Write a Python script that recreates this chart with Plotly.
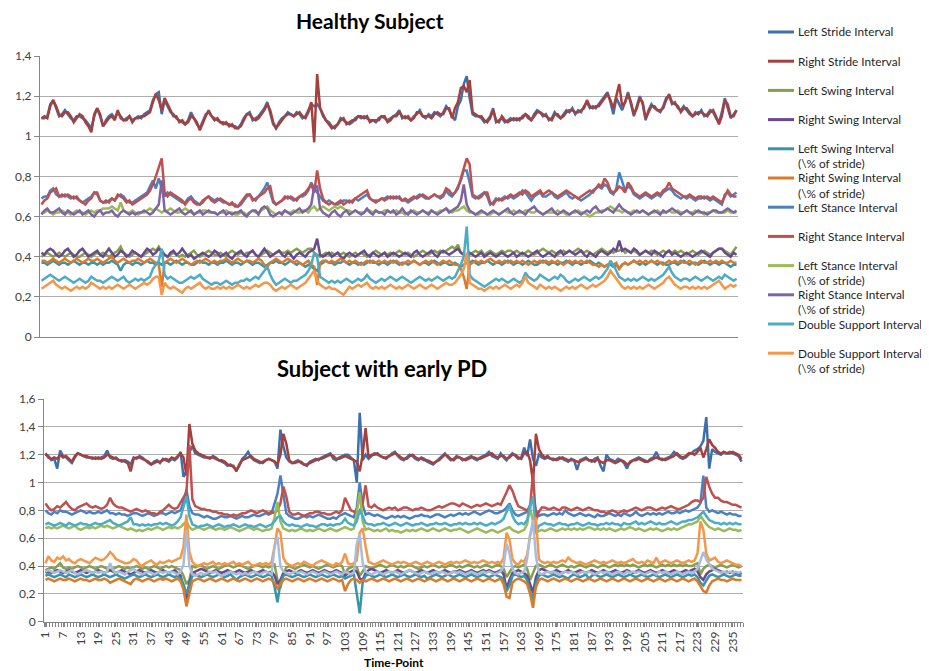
import plotly.graph_objects as go

# ---------------- DATA (values in hundredths of a second / fraction) ----------------
SERIES_NAMES = ["Left Stride Interval", "Right Stride Interval", "Left Swing Interval",
                "Right Swing Interval", "Left Swing Interval<br>(\\% of stride)",
                "Right Swing Interval<br>(\\% of stride)", "Left Stance Interval",
                "Right Stance Interval", "Left Stance Interval<br>(\\% of stride)",
                "Right Stance Interval<br>(\\% of stride)", "Double Support Interval",
                "Double Support Interval<br>(\\% of stride)"]

TOP_COLORS = ["#3F6FAA", "#A5403D", "#83A04C", "#6A4A8C", "#3794A9", "#DA7A2D",
              "#4A80C4", "#C0504D", "#9BBB59", "#8064A2", "#4BACC6", "#F79646"]
PD_COLORS = ["#3F6FAA", "#A5403D", "#83A04C", "#6A4A8C", "#3794A9", "#DA7A2D",
             "#4A80C4", "#C0504D", "#9BBB59", "#4BACC6", "#F79646", "#A9BCDB"]

X_TICK_LABELS = [str(i) for i in range(1, 239, 6)]

# Healthy subject
H_LEFT_STRIDE = [109,109,110,116,118,114,110,111,113,111,109,108,110,110,109,108,106,104,110,114,
110,105,108,110,111,109,112,110,108,109,110,108,109,110,109,111,112,113,118,121,
122,111,118,115,112,111,109,108,107,106,108,112,109,106,104,108,111,112,110,109,
108,107,107,106,106,105,105,104,106,109,111,112,108,109,110,112,114,117,112,106,
104,107,109,110,112,111,110,112,111,109,110,113,116,115,116,114,110,108,107,105,
104,106,109,108,107,106,107,109,110,109,110,109,108,108,107,109,110,109,108,109,
110,111,113,109,110,109,108,110,111,113,110,109,111,110,112,111,110,112,115,113,
110,108,115,118,126,130,119,111,110,110,109,107,108,110,114,107,108,109,107,108,
109,108,109,108,110,111,109,108,111,113,112,110,111,108,109,112,110,109,111,113,
112,114,111,113,112,115,117,114,115,114,116,118,120,122,117,111,119,116,113,117,
122,116,110,115,120,116,108,113,116,114,113,112,115,119,120,116,117,114,113,115,
113,111,110,112,111,113,110,111,113,112,109,107,112,119,114,109,111,113]
H_RIGHT_STRIDE = [109,110,109,115,118,115,111,110,112,112,110,107,109,111,110,107,105,102,111,114,
111,105,107,109,110,108,113,109,108,108,110,107,109,109,110,110,111,112,117,121,
118,113,119,116,113,110,110,107,108,106,107,110,109,107,103,107,110,113,110,108,
109,107,106,107,105,106,104,104,105,108,111,111,109,108,109,111,113,116,113,107,
104,106,108,110,111,111,110,111,112,110,109,112,117,97,131,114,111,108,106,104,
105,106,108,109,106,107,108,108,110,110,109,110,107,108,108,108,110,110,107,108,
110,110,112,110,109,110,108,109,112,112,110,110,110,109,111,112,111,111,114,114,
109,114,117,124,125,122,128,112,111,110,110,108,107,109,113,108,107,110,108,107,
108,109,108,109,109,111,110,108,110,112,112,111,110,109,108,111,111,109,110,112,
113,113,112,112,113,114,118,115,114,115,115,117,119,121,118,114,120,126,115,117,
121,117,111,114,119,117,109,112,115,115,113,113,114,118,121,117,116,115,112,114,
114,112,110,111,112,112,111,110,112,113,110,106,110,118,116,110,110,113]
H_LEFT_SWING = [40,41,42,41,40,41,42,41,40,41,42,41,40,40,41,42,41,40,41,42,
41,42,41,40,41,42,43,45,42,41,40,41,42,41,40,41,42,43,44,43,
45,42,41,40,41,42,41,40,41,40,41,42,43,41,40,41,42,43,42,41,
41,42,41,40,42,43,42,41,42,41,42,42,43,41,40,41,42,43,42,41,
42,43,42,42,43,42,43,44,43,42,43,44,44,42,41,40,41,42,41,42,
41,42,41,42,41,40,41,42,41,42,41,40,41,42,43,42,41,42,41,42,
41,42,43,42,41,42,41,40,41,42,43,42,41,42,43,42,43,42,43,44,
45,44,46,42,41,40,41,42,43,42,43,41,42,43,42,41,42,43,42,43,
43,42,43,42,41,42,43,42,41,42,43,44,43,42,43,42,41,42,43,42,
43,42,43,44,43,42,43,42,41,42,43,44,43,42,43,42,43,43,44,42,
43,42,43,42,41,42,43,42,43,42,41,42,43,42,43,42,43,42,43,42,
41,42,43,42,41,42,43,42,41,42,43,44,44,43,42,41,43,45]
H_RIGHT_SWING = [42,41,43,44,43,41,40,41,43,44,42,40,41,43,44,42,40,41,42,43,
41,40,42,44,42,40,41,43,42,40,41,43,42,41,40,42,44,43,41,42,
44,43,41,40,42,43,41,42,44,42,40,41,39,40,41,42,41,40,41,43,
42,40,41,42,40,39,41,42,43,41,40,42,43,41,40,42,44,42,40,41,
42,43,41,40,42,41,39,41,42,41,40,42,43,44,49,41,40,41,42,40,
41,42,40,39,41,42,41,40,41,42,43,41,40,42,41,40,41,42,40,41,
42,41,40,41,42,41,40,42,43,41,40,41,42,43,41,40,42,43,42,41,
42,43,44,42,41,40,42,41,40,41,42,40,41,42,41,40,41,42,41,40,
41,42,40,41,42,41,40,41,42,43,41,40,41,42,41,40,42,43,41,42,
43,42,41,42,43,41,40,42,41,40,42,43,42,41,42,44,43,48,43,44,
43,42,44,43,41,42,43,42,41,43,42,41,40,42,43,41,42,41,40,41,
42,41,40,41,42,43,42,41,40,42,43,44,44,42,41,40,42,41]
H_LEFT_SWING_PCT = [37,37,36,37,38,37,36,37,37,36,37,38,37,36,37,37,36,37,37,36,
37,36,37,37,38,37,36,33,36,37,37,36,37,37,36,37,38,37,37,36,
37,36,37,37,36,37,38,37,36,37,37,36,36,37,38,37,37,36,37,37,
36,37,37,38,37,36,37,37,36,37,38,37,36,37,37,36,35,36,37,37,
38,37,37,36,37,38,37,36,37,36,35,36,35,34,33,36,37,38,37,37,
36,37,37,38,37,36,37,37,36,37,36,37,38,37,37,36,37,37,36,37,
38,37,36,37,37,36,37,38,37,36,37,37,36,37,38,37,36,37,37,36,
36,37,36,35,36,37,37,38,37,36,37,37,38,37,36,37,37,36,37,38,
37,36,37,37,36,37,38,37,36,36,37,38,37,36,37,37,36,37,37,38,
37,36,37,37,36,37,37,38,37,36,37,36,35,36,36,35,36,34,36,37,
36,37,38,37,36,37,36,37,38,37,36,37,37,36,36,37,37,36,37,38,
37,36,37,37,36,37,38,37,36,37,37,36,37,37,36,35,36,36]
H_RIGHT_SWING_PCT = [38,38,37,38,39,38,37,38,39,38,37,38,39,38,37,38,39,38,38,39,
38,37,38,39,40,38,37,38,39,38,37,38,38,39,38,37,38,39,38,37,
36,25,37,38,39,38,37,38,39,38,37,36,37,38,37,38,39,38,37,38,
37,38,38,39,38,37,38,39,38,37,38,38,37,38,39,38,36,35,37,38,
39,38,37,38,39,38,37,38,37,36,37,38,36,35,26,37,38,38,37,38,
37,38,39,38,37,38,37,38,37,36,37,38,37,38,37,38,37,38,37,38,
37,38,37,36,37,38,37,38,37,36,37,38,37,38,37,36,37,38,37,38,
37,36,36,34,30,24,36,37,38,37,38,37,38,39,38,37,38,37,38,37,
38,37,38,37,38,37,36,37,38,37,38,37,38,37,38,37,38,37,36,37,
38,37,38,37,38,37,38,37,36,36,35,36,35,36,37,36,37,34,36,37,
36,37,38,37,38,37,38,37,38,37,38,37,36,37,38,37,38,37,38,37,
37,38,37,36,37,38,37,37,38,37,38,37,38,37,37,38,37,37]
H_LEFT_STANCE = [69,70,70,73,74,71,70,70,71,70,69,70,69,68,67,68,69,70,72,71,
68,67,67,68,69,68,70,71,70,68,67,67,68,69,70,71,72,75,78,74,
79,74,70,72,71,70,69,68,67,67,69,70,68,67,66,67,69,70,69,68,
69,68,67,67,66,66,66,65,66,68,70,71,69,68,70,72,74,77,72,67,
66,67,68,69,70,69,68,69,70,70,71,73,77,74,72,70,68,67,68,67,
66,66,67,68,68,67,68,69,68,69,70,71,69,68,68,68,69,69,70,69,
70,69,70,68,68,67,68,69,70,71,70,69,69,70,71,70,69,70,73,71,
70,72,75,78,83,83,77,70,69,70,71,72,70,66,67,69,68,69,70,69,
70,69,70,71,73,72,70,68,70,71,72,70,70,71,72,70,69,70,71,72,
70,69,70,69,68,69,70,71,73,74,75,74,76,75,72,71,74,82,78,73,
75,74,71,70,69,70,71,70,69,70,71,70,72,73,74,73,71,70,69,70,
69,70,69,68,69,69,70,69,68,69,68,67,66,71,72,70,71,72]
H_RIGHT_STANCE = [66,68,69,72,73,74,70,71,70,71,70,69,70,68,67,66,68,69,72,72,
68,67,68,67,69,68,71,70,69,67,68,66,67,68,69,70,71,73,76,80,
84,89,72,70,72,71,70,69,68,66,68,69,67,66,66,68,69,70,68,67,
68,69,68,67,66,67,65,65,67,69,71,71,68,69,70,71,72,74,75,68,
66,67,68,70,69,70,69,68,70,71,72,74,76,72,83,74,69,67,66,67,
66,67,68,66,67,68,67,69,70,71,72,73,69,68,67,68,69,68,69,70,
69,70,69,68,69,68,69,70,69,70,71,70,69,70,71,70,70,71,74,73,
71,72,74,79,84,89,86,71,70,69,70,72,72,67,66,68,69,68,69,70,
71,70,71,72,71,73,72,70,71,72,73,71,72,73,72,71,70,71,72,73,
72,71,70,69,70,71,72,73,72,74,76,75,79,77,73,72,73,75,74,72,
77,75,72,71,70,71,72,71,70,71,72,71,73,74,77,74,73,72,71,70,
70,71,70,69,70,70,69,70,69,70,69,68,67,70,73,71,70,70]
H_LEFT_STANCE_PCT = [62,62,63,62,61,62,62,63,62,62,61,62,63,62,62,61,62,63,62,63,
63,64,64,64,65,64,63,67,63,62,62,63,62,61,62,62,63,64,63,64,
63,62,63,63,64,63,62,62,63,64,63,62,61,62,62,63,63,62,62,62,
61,62,62,63,62,62,61,61,62,62,61,62,63,62,62,63,64,65,63,62,
61,62,62,63,62,62,63,62,62,63,63,62,64,65,63,64,65,64,63,64,
65,64,65,64,63,63,62,63,62,62,62,63,63,62,63,62,62,63,63,62,
62,63,62,62,61,62,62,63,62,62,63,62,62,63,62,62,63,63,64,63,
62,63,63,64,65,63,62,62,61,61,62,62,61,61,62,62,61,62,63,62,
62,63,62,62,62,63,63,62,62,63,62,61,62,62,62,62,63,62,62,61,
61,62,62,63,62,62,61,60,61,62,62,63,63,64,65,64,63,63,62,63,
62,62,63,62,62,63,62,61,62,62,63,62,62,62,63,62,62,63,62,62,
63,62,62,63,62,62,61,62,62,63,62,62,62,62,63,62,62,62]
H_RIGHT_STANCE_PCT = [61,63,64,62,62,63,64,62,61,63,62,61,62,63,61,62,63,61,60,62,
63,61,62,62,63,61,60,62,63,62,61,62,61,62,62,63,62,61,62,64,
66,78,63,62,61,62,63,64,62,61,62,63,61,62,63,61,62,63,62,62,
61,62,63,61,62,61,62,62,63,61,60,62,63,63,61,64,65,64,61,60,
61,62,61,63,62,61,62,63,64,62,63,64,66,75,75,64,62,61,60,62,
63,61,60,62,63,61,62,63,62,61,62,64,62,61,63,62,62,61,63,62,
63,61,62,64,62,61,63,62,61,62,63,62,61,63,62,61,62,63,64,62,
63,64,65,68,76,66,63,62,61,62,63,62,61,62,63,62,61,62,63,64,
62,61,62,63,62,61,63,64,65,63,62,61,62,63,64,62,61,62,63,62,
61,62,63,62,61,62,63,62,64,65,63,62,63,64,63,62,64,66,64,63,
62,61,62,63,62,63,62,61,62,63,62,61,63,62,63,64,63,62,61,62,
63,62,61,62,63,62,62,61,62,63,63,62,62,63,64,63,62,63]
H_DOUBLE_SUPPORT = [28,29,30,31,30,29,28,29,30,29,28,27,28,29,28,27,28,30,29,28,
28,27,28,29,30,29,28,29,30,28,27,28,29,28,29,28,29,30,34,36,
38,44,31,29,30,29,28,27,27,28,29,30,29,30,31,29,28,27,26,27,
27,26,27,28,27,26,27,27,28,28,29,28,29,30,29,31,33,35,31,28,
26,27,28,29,28,27,28,28,29,30,31,33,36,42,40,30,29,28,27,28,
27,28,27,28,29,28,27,28,29,28,29,31,29,28,27,28,29,28,29,30,
29,28,29,30,29,28,27,28,29,30,29,28,29,28,29,30,29,28,29,30,
29,30,33,36,40,55,31,29,28,27,26,25,26,27,28,29,28,29,28,27,
28,29,28,27,28,32,30,29,28,29,31,30,29,28,29,30,29,31,30,28,
27,28,29,28,29,30,29,28,29,30,29,30,32,34,38,36,33,30,29,28,
29,28,29,28,29,30,29,28,29,28,29,30,31,33,35,32,30,29,28,29,
29,28,29,30,29,28,29,30,29,28,29,30,29,31,30,29,28,29]
H_DOUBLE_SUPPORT_PCT = [24,25,26,27,28,26,25,24,25,24,23,24,25,24,25,24,25,27,26,25,
24,25,24,25,24,25,26,25,24,25,26,25,24,25,26,27,26,27,29,30,
30,21,27,25,24,25,24,23,22,24,25,24,25,26,27,25,24,25,24,24,
25,24,25,24,25,24,25,26,25,24,25,24,25,26,25,26,27,27,26,24,
23,24,25,24,25,26,25,24,25,26,27,29,31,33,28,26,25,24,25,24,
24,23,22,21,23,25,24,25,26,25,26,27,25,24,25,24,25,24,25,26,
25,24,25,24,25,26,25,24,25,26,25,24,25,26,25,24,25,26,27,26,
26,27,29,31,34,42,27,26,25,24,24,23,24,25,24,25,24,25,26,25,
24,25,26,25,27,30,27,26,25,24,26,25,24,25,24,25,24,23,24,25,
24,25,24,25,26,25,24,25,26,25,26,27,28,30,33,31,29,27,25,24,
25,24,25,24,25,24,25,26,25,24,25,26,27,29,30,28,26,25,24,25,
25,24,25,24,25,24,25,24,25,26,27,28,26,24,25,26,25,26]

# Subject with early PD
P_LEFT_STRIDE = [120,119,116,117,110,123,119,118,116,114,118,121,120,119,118,118,117,118,117,118,
119,123,118,117,118,116,115,116,115,113,118,117,119,118,116,114,113,115,116,114,
117,116,115,117,116,118,122,104,108,122,126,121,120,119,118,118,117,119,118,116,
115,114,112,113,111,109,112,117,119,122,118,116,115,114,115,116,117,116,115,110,
138,126,118,115,114,115,116,114,113,112,115,116,117,116,118,119,120,121,117,116,
118,119,120,120,118,116,100,150,116,120,117,119,121,120,119,118,117,119,121,122,
119,117,116,118,120,119,117,116,118,117,115,114,113,115,117,119,121,118,116,117,
119,118,116,117,118,119,117,116,118,119,120,122,119,118,117,121,118,116,119,121,
119,117,118,125,119,131,117,112,120,118,117,118,117,116,117,118,117,116,115,117,
116,109,116,117,118,116,115,117,118,112,108,120,117,116,115,117,116,114,110,115,
116,117,118,117,116,115,117,118,122,117,116,117,118,119,122,120,118,117,118,120,
121,123,124,126,130,147,110,124,122,121,120,122,121,122,121,120,119,115]
P_RIGHT_STRIDE = [121,118,117,118,117,120,118,119,117,115,119,121,120,119,119,118,118,117,118,117,
118,120,119,118,117,116,116,115,114,108,117,118,118,117,116,115,113,114,115,115,
116,117,116,118,117,119,121,118,105,142,128,123,121,120,119,118,118,118,117,116,
116,115,113,112,112,108,113,116,117,118,119,117,116,115,114,116,117,116,115,113,
120,135,128,116,114,114,115,115,113,113,114,115,116,117,117,118,119,120,119,117,
117,118,119,118,117,116,115,108,120,139,118,120,120,121,119,118,118,119,120,121,
120,118,117,117,119,120,118,117,117,116,116,115,114,115,116,118,120,119,117,116,
118,118,117,116,117,118,118,117,117,118,119,120,121,119,118,119,119,117,118,120,
120,118,117,121,122,116,100,135,124,120,118,119,117,117,116,117,118,117,116,116,
116,115,115,116,117,116,116,115,117,115,114,116,116,115,114,115,116,115,113,114,
116,116,117,116,115,115,116,117,118,117,117,116,117,118,119,121,119,118,119,121,
121,120,122,125,118,124,131,127,125,122,121,122,121,121,122,121,120,117]
P_LEFT_SWING = [37,38,39,38,40,42,39,38,39,38,39,40,39,38,39,40,39,38,39,40,
39,38,37,38,39,40,39,38,39,38,39,40,39,38,39,38,39,40,39,38,
39,40,39,40,39,38,37,33,27,30,40,39,40,41,39,38,39,40,39,38,
39,40,41,40,39,40,41,40,39,38,39,40,41,40,39,40,39,40,41,30,
24,34,39,40,39,38,39,40,41,40,39,40,39,38,39,40,41,40,39,40,
41,40,34,38,39,40,39,33,36,40,39,38,39,40,41,40,39,40,41,40,
39,40,39,40,41,40,39,38,39,40,39,40,41,40,39,40,39,40,41,40,
39,40,39,40,41,40,39,40,39,40,41,40,39,40,41,40,38,32,36,39,
40,39,40,41,38,30,35,40,41,40,39,40,41,40,39,40,41,40,39,40,
39,40,41,40,39,40,41,40,39,40,41,40,39,40,41,40,41,40,41,40,
41,40,39,40,41,40,41,40,39,40,41,40,41,40,41,40,41,40,41,40,
40,41,42,34,38,40,41,40,39,40,41,40,39,40,41,40,39,40]
P_RIGHT_SWING = [35,36,35,36,37,36,35,36,37,36,35,36,37,36,35,36,35,36,37,36,
35,36,37,36,35,36,37,36,35,34,35,36,37,36,35,36,37,36,35,36,
37,36,35,36,37,35,33,25,16,28,35,36,37,38,37,36,35,36,37,36,
35,36,37,36,35,36,37,36,35,36,37,36,35,36,37,36,35,36,33,27,
30,35,36,37,36,35,36,37,36,35,36,37,36,35,36,37,36,35,36,37,
36,35,33,35,36,37,36,31,30,35,37,38,37,36,35,36,37,36,35,36,
37,36,35,36,37,36,35,36,37,36,35,36,37,36,35,36,37,36,35,36,
36,37,36,35,36,37,36,35,36,37,36,37,36,35,36,37,34,24,30,35,
36,37,36,35,33,27,21,32,37,38,37,36,35,36,37,36,35,36,37,36,
35,36,37,36,35,36,37,36,35,36,37,36,35,36,37,36,35,36,37,36,
35,36,37,36,35,36,37,36,35,36,37,36,35,36,37,36,35,36,37,36,
37,38,36,32,30,34,36,37,38,37,36,35,36,35,36,35,34,35]
P_LEFT_SWING_PCT = [33,34,33,32,33,34,33,32,34,33,32,33,34,33,32,33,34,33,32,33,
34,33,32,33,34,33,32,31,32,33,34,33,32,33,34,33,32,33,34,33,
32,33,34,33,32,33,31,27,20,26,33,34,33,32,33,34,33,32,33,34,
33,32,33,34,32,30,32,33,34,33,32,33,34,33,32,33,34,33,25,14,
28,33,34,33,32,33,34,33,32,33,34,33,32,33,34,33,32,33,34,33,
32,33,31,32,33,34,20,6,28,33,34,33,32,33,34,33,32,33,34,33,
32,33,34,33,32,33,34,33,32,33,31,32,33,34,33,32,33,34,33,32,
33,34,33,32,33,34,33,32,33,34,33,32,33,34,33,32,30,22,26,33,
34,33,32,33,30,22,16,28,33,34,33,32,33,34,33,32,33,32,31,33,
34,33,32,33,34,31,33,34,33,32,33,34,33,32,33,34,33,32,33,34,
33,32,33,34,33,32,33,34,33,32,33,34,33,32,33,34,33,32,33,34,
33,34,32,28,26,30,33,34,33,32,33,34,33,32,33,34,33,33]
P_RIGHT_SWING_PCT = [30,31,30,29,30,31,30,30,31,30,29,30,31,30,30,29,30,31,30,30,
31,30,28,29,30,31,30,29,28,27,30,31,30,29,30,31,30,29,30,31,
30,31,30,29,30,31,29,23,11,20,29,30,31,30,29,30,31,30,29,30,
31,30,29,30,31,30,29,30,31,30,29,30,31,30,29,30,31,30,28,24,
27,30,31,30,29,30,31,30,29,30,31,30,29,30,31,30,29,30,31,30,
29,30,22,27,30,31,30,28,30,29,30,31,30,29,30,31,30,29,30,31,
30,29,30,31,30,29,30,31,30,29,30,31,30,29,30,31,30,29,30,31,
30,29,30,31,30,29,30,31,30,29,30,31,30,29,30,31,27,18,17,28,
30,31,30,29,27,20,10,25,30,31,30,29,30,31,30,29,30,31,30,29,
30,31,30,29,30,31,30,29,30,31,30,29,30,31,30,29,30,31,30,29,
30,31,30,29,30,31,30,29,30,31,30,29,30,31,30,29,30,31,30,29,
30,31,29,25,22,21,26,29,30,31,30,30,29,30,31,30,30,30]
P_LEFT_STANCE = [80,78,77,79,78,80,79,79,78,77,78,79,80,79,78,79,78,78,79,78,
79,80,78,78,77,78,77,77,76,77,78,78,77,76,77,78,77,76,77,78,
78,77,78,79,78,79,80,86,95,83,78,77,77,76,75,76,75,74,74,75,
76,75,75,76,75,74,75,76,75,75,76,77,76,76,77,78,77,78,85,92,
105,90,78,76,75,74,74,75,76,75,76,75,76,77,76,75,74,74,75,74,
76,77,78,77,76,75,82,100,84,77,78,77,76,77,76,75,74,75,76,75,
76,75,76,75,74,75,76,76,77,76,76,75,76,77,77,76,75,76,77,76,
77,78,77,78,77,78,79,78,77,78,79,80,79,78,78,79,80,82,85,80,
77,76,77,78,79,84,90,80,76,77,77,76,77,78,77,78,77,80,78,77,
76,77,78,77,76,77,76,75,77,76,76,77,78,77,76,77,76,78,77,76,
77,79,77,76,77,78,77,78,77,78,77,78,79,78,78,79,78,79,80,79,
80,81,82,85,105,82,79,80,79,78,79,78,77,78,77,77,76,76]
P_RIGHT_STANCE = [85,82,80,81,83,82,84,86,83,81,80,82,83,84,85,83,82,83,82,81,
82,84,89,85,83,82,82,81,80,79,80,81,80,79,80,79,78,78,77,79,
80,82,84,82,81,82,86,90,93,127,88,83,82,81,81,80,80,79,79,78,
78,77,77,76,77,76,77,78,78,79,80,79,78,79,80,79,78,79,78,80,
85,97,90,79,77,77,78,77,76,77,78,78,79,79,78,78,77,77,78,79,
78,80,89,84,80,79,78,79,85,98,83,82,84,82,81,80,81,82,81,82,
80,81,82,82,81,80,81,81,82,81,80,80,81,82,83,82,83,84,85,85,
84,83,85,84,83,82,83,84,83,84,85,84,83,84,85,84,88,93,98,94,
88,83,82,81,80,82,107,73,79,82,82,81,81,82,81,80,82,82,81,80,
81,82,81,80,81,82,81,80,80,79,79,78,79,80,79,78,79,80,79,80,
81,82,81,80,81,82,82,81,80,81,82,81,82,83,82,81,81,82,83,84,
86,87,87,86,89,104,97,92,89,89,87,86,86,85,84,84,83,82]
P_LEFT_STANCE_PCT = [67,68,67,68,67,68,69,68,67,68,69,67,66,67,68,67,68,67,68,69,
68,69,68,67,68,69,68,67,66,67,66,65,66,65,66,67,66,67,68,67,
66,67,68,67,68,67,68,70,72,68,66,67,68,67,66,67,68,67,66,67,
67,66,67,68,67,66,65,66,67,68,67,66,67,66,65,66,66,67,75,86,
72,67,66,65,66,65,66,67,66,65,66,65,66,67,66,65,66,67,66,65,
66,67,68,67,66,67,78,93,72,66,67,66,65,66,65,66,67,65,66,65,
65,64,65,66,65,66,65,66,67,66,65,66,67,66,65,66,67,66,65,66,
66,67,66,65,64,65,66,67,66,65,64,65,66,65,64,65,66,67,68,66,
65,64,65,66,70,82,72,64,65,66,65,66,67,66,65,66,67,66,67,66,
67,66,67,66,67,68,67,66,67,66,67,66,67,66,65,66,67,66,67,68,
67,66,67,66,65,66,67,66,67,66,65,66,67,66,67,66,67,68,69,70,
70,71,72,76,73,70,68,67,66,67,66,65,66,67,66,66,65,66]
P_RIGHT_STANCE_PCT = [70,71,70,69,70,71,70,69,71,70,69,70,71,70,70,69,70,71,70,70,
71,72,73,71,70,69,70,71,72,75,70,70,69,70,69,70,69,70,70,71,
70,71,70,69,70,72,75,82,90,76,70,69,68,69,69,70,69,68,69,70,
69,68,69,69,70,69,68,69,70,69,69,68,69,70,69,68,69,70,72,75,
76,72,70,69,70,69,69,68,69,70,69,69,68,69,70,70,69,70,69,70,
70,71,74,71,70,69,72,80,76,71,70,70,69,70,70,71,70,69,70,71,
70,69,70,71,70,69,70,70,71,70,69,70,70,71,70,70,71,70,69,70,
70,71,70,71,70,70,71,70,71,70,69,70,71,70,71,72,74,79,84,76,
72,70,71,70,73,83,90,64,69,70,71,70,70,69,70,71,70,70,69,70,
70,71,70,69,70,71,70,70,69,70,70,71,70,71,70,70,69,71,70,70,
71,72,70,71,70,71,72,71,70,71,70,70,71,72,71,70,71,72,72,73,
73,74,75,77,79,76,73,72,71,71,70,71,70,71,70,71,70,70]
P_DOUBLE_SUPPORT = [42,47,44,43,46,45,47,44,45,43,42,44,45,44,43,42,44,46,45,44,
45,47,50,48,45,44,43,42,42,43,45,44,41,40,42,43,44,42,41,43,
42,43,44,43,44,45,46,54,77,50,43,41,40,41,42,41,42,43,41,42,
41,42,41,42,43,41,42,41,42,43,41,40,41,42,41,42,41,43,54,67,
64,46,42,41,40,41,42,41,43,42,41,40,42,43,44,43,42,41,40,42,
41,43,49,42,41,42,44,64,67,54,43,42,41,42,43,44,43,42,41,42,
43,42,43,42,41,42,43,42,41,42,43,42,41,42,43,42,41,42,43,42,
43,42,43,44,43,42,43,42,43,44,43,42,43,42,43,42,46,64,59,45,
42,41,44,43,48,62,69,75,45,43,42,43,42,43,42,43,44,43,46,44,
43,42,43,42,41,42,43,44,43,42,43,42,43,44,43,42,43,42,43,44,
45,43,42,43,42,44,43,42,46,42,43,44,43,42,43,44,43,42,43,44,
43,44,49,72,66,49,44,45,46,43,42,43,44,43,42,41,41,40]
P_DOUBLE_SUPPORT_PCT = [36,37,36,35,36,37,36,35,36,37,35,34,35,36,37,36,35,36,35,36,
35,36,42,37,35,36,35,34,36,37,38,36,35,34,35,36,35,34,35,36,
35,36,35,36,35,34,36,41,66,40,34,33,34,35,34,35,36,35,36,34,
33,34,35,36,35,34,35,34,35,34,35,36,35,34,35,36,35,34,54,61,
40,36,35,34,35,36,35,36,35,34,35,36,35,34,35,36,35,34,35,36,
35,34,36,35,34,35,56,63,42,36,35,34,35,36,35,34,35,36,35,36,
35,34,35,36,37,36,35,34,35,36,35,34,35,36,35,36,35,34,35,36,
35,36,35,34,35,36,35,34,35,36,35,36,35,34,35,36,40,56,49,38,
35,34,35,36,45,62,73,47,35,34,35,36,35,36,35,34,35,36,35,36,
35,34,35,36,35,36,35,34,35,36,35,36,35,34,35,36,35,34,36,35,
36,35,36,35,34,35,36,35,34,36,35,36,35,34,35,36,35,34,35,36,
35,36,38,44,50,45,41,38,37,36,35,36,35,36,35,36,35,36]

HEALTHY = [H_LEFT_STRIDE, H_RIGHT_STRIDE, H_LEFT_SWING, H_RIGHT_SWING, H_LEFT_SWING_PCT,
           H_RIGHT_SWING_PCT, H_LEFT_STANCE, H_RIGHT_STANCE, H_LEFT_STANCE_PCT,
           H_RIGHT_STANCE_PCT, H_DOUBLE_SUPPORT, H_DOUBLE_SUPPORT_PCT]
PD = [P_LEFT_STRIDE, P_RIGHT_STRIDE, P_LEFT_SWING, P_RIGHT_SWING, P_LEFT_SWING_PCT,
      P_RIGHT_SWING_PCT, P_LEFT_STANCE, P_RIGHT_STANCE, P_LEFT_STANCE_PCT,
      P_RIGHT_STANCE_PCT, P_DOUBLE_SUPPORT, P_DOUBLE_SUPPORT_PCT]

# ---------------- FIGURE ----------------
# The page body has an 8px margin, so the figure is made 8px smaller and every
# reference pixel position is shifted by that offset.
OFF = 8
W, H = 929 - OFF, 671 - OFF
FONT = "Lato"
AXIS_GRAY = "#868686"
GRID_GRAY = "#ADADAD"
TEXT = "#404040"

fig = go.Figure()

for name, vals, col in zip(SERIES_NAMES, HEALTHY, TOP_COLORS):
    fig.add_trace(go.Scatter(x=list(range(1, len(vals) + 1)), y=[v / 100 for v in vals],
                             mode="lines", name=name.replace("<br>", " "),
                             line=dict(color=col, width=2.5), showlegend=False,
                             xaxis="x", yaxis="y"))
for name, vals, col in zip(SERIES_NAMES, PD, PD_COLORS):
    fig.add_trace(go.Scatter(x=list(range(1, len(vals) + 1)), y=[v / 100 for v in vals],
                             mode="lines", name=name.replace("<br>", " "),
                             line=dict(color=col, width=2.5), showlegend=False,
                             xaxis="x2", yaxis="y2"))


def px_x(p):
    return (p - OFF) / W


def px_y(p):
    return 1 - (p - OFF) / H


yaxis_common = dict(showline=True, linecolor=AXIS_GRAY, linewidth=1, showgrid=True,
                    gridcolor=GRID_GRAY, gridwidth=1, zeroline=False, ticks="outside",
                    ticklen=5, tickcolor=AXIS_GRAY, dtick=0.2, automargin=False,
                    tickfont=dict(family=FONT, size=12, color=TEXT))

fig.update_layout(
    width=W, height=H, margin=dict(l=0, r=0, t=0, b=0, autoexpand=False),
    paper_bgcolor="white", plot_bgcolor="white", separators=",.",
    showlegend=False,
    xaxis=dict(domain=[px_x(40), px_x(738)], range=[0.5, 238.5], showgrid=False,
               showline=True, linecolor=AXIS_GRAY, zeroline=False, showticklabels=False,
               ticks="", anchor="y", automargin=False),
    yaxis=dict(domain=[px_y(337), px_y(56)], range=[0, 1.4], anchor="x", **yaxis_common),
    xaxis2=dict(domain=[px_x(44), px_x(743)], range=[0.5, 238.5], showgrid=False,
                showline=True, linecolor=AXIS_GRAY, zeroline=False, anchor="y2",
                automargin=False,
                tickmode="array", tickvals=list(range(1, 239, 6)), ticktext=X_TICK_LABELS,
                tickangle=-90, ticks="outside", ticklen=4, tickcolor=AXIS_GRAY,
                minor=dict(tick0=0.5, dtick=1, ticks="outside", ticklen=4,
                           tickcolor=AXIS_GRAY, showgrid=False),
                tickfont=dict(family=FONT, size=12, color=TEXT)),
    yaxis2=dict(domain=[px_y(621.7), px_y(399)], range=[0, 1.6], anchor="x2", **yaxis_common),
)

annotations = [
    dict(text="<b>Healthy Subject</b>", x=px_x(370), y=px_y(20), xref="paper", yref="paper",
         showarrow=False, xanchor="center", yanchor="middle",
         font=dict(family=FONT, size=21, color="#000000")),
    dict(text="<b>Subject with early PD</b>", x=px_x(382), y=px_y(368), xref="paper",
         yref="paper", showarrow=False, xanchor="center", yanchor="middle",
         font=dict(family=FONT, size=22, color="#000000")),
    dict(text="<b>Time-Point</b>", x=px_x(394), y=px_y(662), xref="paper", yref="paper",
         showarrow=False, xanchor="center", yanchor="middle",
         font=dict(family=FONT, size=12, color="#000000")),
]

shapes = []
LEG_Y0, LEG_DY = 32, 29.2
for k, (name, col) in enumerate(zip(SERIES_NAMES, TOP_COLORS)):
    yy = LEG_Y0 + k * LEG_DY
    shapes.append(dict(type="line", xref="paper", yref="paper", x0=px_x(768), x1=px_x(794),
                       y0=px_y(yy), y1=px_y(yy), line=dict(color=col, width=3)))
    for j, part in enumerate(name.split("<br>")):
        annotations.append(dict(text=part, x=px_x(796), y=px_y(yy + j * 15), xref="paper",
                                yref="paper", showarrow=False, xanchor="left",
                                yanchor="middle",
                                font=dict(family=FONT, size=11.8, color="#1F1F1F")))

fig.update_layout(annotations=annotations, shapes=shapes)
fig.write_html("out.html")
